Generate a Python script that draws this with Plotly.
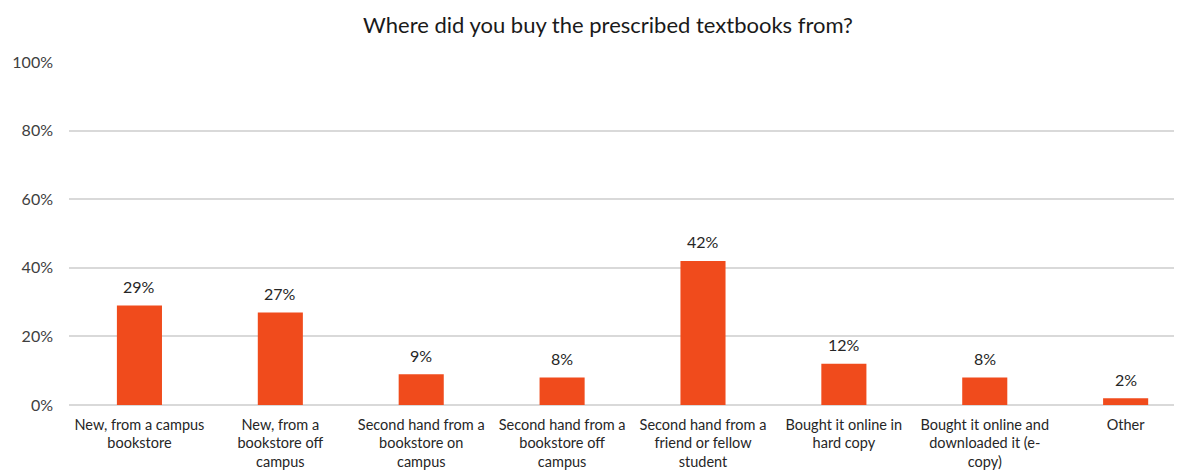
import plotly.graph_objects as go

categories = [
    "New, from a campus<br>bookstore",
    "New, from a<br>bookstore off<br>campus",
    "Second hand from a<br>bookstore on<br>campus",
    "Second hand from a<br>bookstore off<br>campus",
    "Second hand from a<br>friend or fellow<br>student",
    "Bought it online in<br>hard copy",
    "Bought it online and<br>downloaded it (e-<br>copy)",
    "Other",
]
values = [29, 27, 9, 8, 42, 12, 8, 2]
labels = [f"{v}%" for v in values]
title_text = "Where did you buy the prescribed textbooks from?"

FONT = "Lato, 'Noto Sans', sans-serif"
xs = list(range(len(categories)))

W, H = 1174, 463

fig = go.Figure()
fig.add_trace(go.Bar(
    x=xs,
    y=values,
    marker=dict(color="#F04B1C", line=dict(width=0)),
    width=0.32,
))

for x, v, t in zip(xs, values, labels):
    fig.add_annotation(x=x, y=v, text=t, showarrow=False, yanchor="middle",
                       yshift=19, font=dict(family=FONT, size=16, color="#262626"))

fig.update_layout(
    width=W, height=H,
    margin=dict(l=61, r=0, t=54, b=66, autoexpand=False),
    paper_bgcolor="white", plot_bgcolor="white",
    showlegend=False,
    title=dict(text=title_text, x=600/W, xanchor="center", xref="container",
               y=1 - 17/H, yanchor="middle", yref="container", automargin=False,
               font=dict(family=FONT, size=22, color="#1a1a1a")),
    xaxis=dict(
        tickmode="array",
        tickvals=xs,
        ticktext=categories,
        range=[-0.5, 7.4],
        showgrid=False, zeroline=False, showline=False,
        ticks="", tickangle=0, automargin=False,
        ticklabelstandoff=9,
        tickfont=dict(family=FONT, size=14.5, color="#262626"),
    ),
    yaxis=dict(
        range=[0, 100],
        dtick=20,
        ticksuffix="%",
        showgrid=True, gridcolor="#D9D9D9", gridwidth=1.5,
        zeroline=True, zerolinecolor="#D9D9D9", zerolinewidth=1.5,
        showline=False, ticks="", automargin=False,
        ticklabelstandoff=15,
        tickfont=dict(family=FONT, size=16, color="#404040"),
    ),
)

fig.write_html("out.html")
